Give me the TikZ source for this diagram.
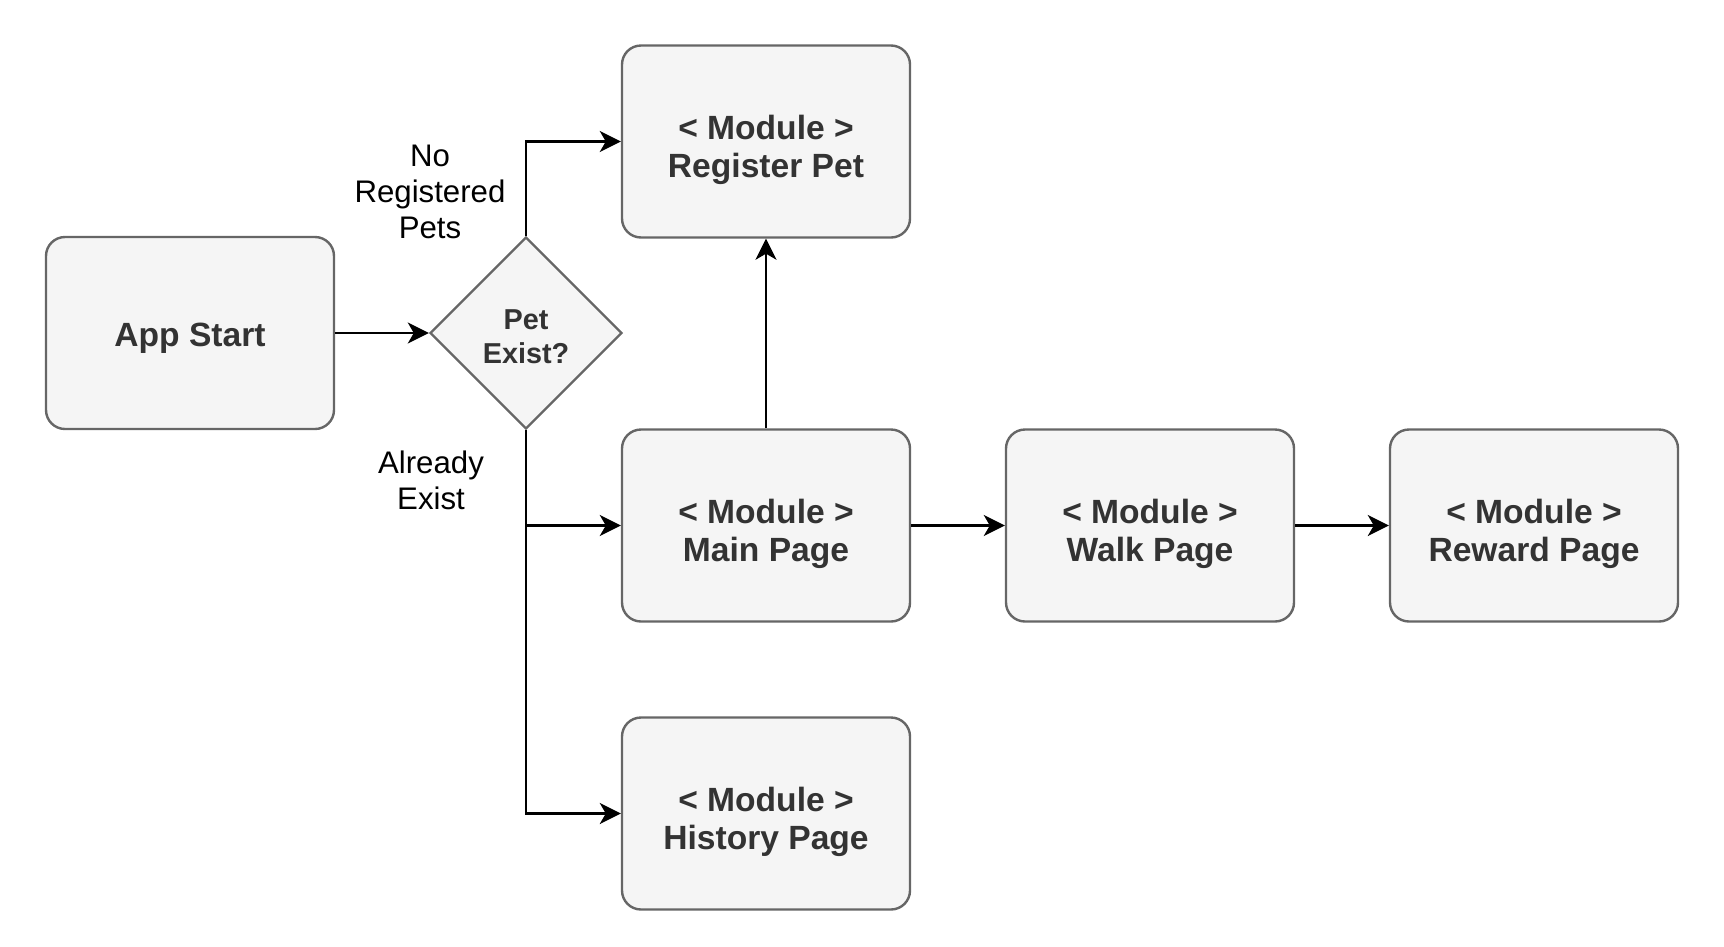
\documentclass[tikz,border=0pt]{standalone}
\usepackage{fontspec}
\setmainfont{Liberation Sans}
\usetikzlibrary{shapes.geometric,arrows.meta}
\definecolor{boxfill}{HTML}{F5F5F5}
\definecolor{boxline}{HTML}{666666}
\definecolor{boxtext}{HTML}{333333}
\begin{document}
\begin{tikzpicture}[x=1pt,y=-1pt,
  modtext/.style={align=center, inner sep=0pt, text=boxtext, font=\fontsize{33.6}{38}\selectfont\bfseries},
  module/.style={draw=boxline, fill=boxfill, line width=2.4pt, rounded corners=19pt,
    minimum width=288pt, minimum height=192pt, inner sep=0pt,
    label={[modtext, yshift=-8pt]center:{#1}}},
  startbox/.style={draw=boxline, fill=boxfill, line width=2.4pt, rounded corners=19pt,
    minimum width=288pt, minimum height=192pt, inner sep=0pt,
    label={[modtext, yshift=-5.5pt]center:{#1}}},
  decision/.style={draw=boxline, fill=boxfill, line width=2.4pt, diamond, aspect=1,
    minimum width=192pt, minimum height=192pt, inner sep=0pt, align=center,
    text=boxtext, font=\fontsize{28.8}{34}\selectfont\bfseries},
  lbl/.style={align=center, text=black, font=\fontsize{31.2}{36}\selectfont, inner sep=0pt},
  conn/.style={draw=black, line width=2.8pt, -{Stealth[length=21pt,width=21pt,inset=6pt]}}
]
\useasboundingbox (0,0) rectangle (1724,946);
\node[startbox={App Start}] (app) at (190,333) {};
\node[decision] (dec) at (526,333) {\\[-6pt]Pet\\Exist?};
\node[module={< Module >\\Register Pet}] (reg) at (766,141.5) {};
\node[module={< Module >\\Main Page}] (main) at (766,525.5) {};
\node[module={< Module >\\Walk Page}] (walk) at (1150,525.5) {};
\node[module={< Module >\\Reward Page}] (reward) at (1534,525.5) {};
\node[module={< Module >\\History Page}] (hist) at (766,813.5) {};

\node[lbl] (nolbl) at (430,192) {No\\Registered\\Pets};
\node[lbl] (exlbl) at (431,480) {Already\\Exist};

\draw[conn] (app.east) -- (dec.west);
\draw[conn] (dec.north) |- (reg.west);
\draw[conn] (dec.south) |- (main.west);
\draw[conn] (dec.south) |- (hist.west);
\draw[conn] (main.north) -- (reg.south);
\draw[conn] (main.east) -- (walk.west);
\draw[conn] (walk.east) -- (reward.west);
\end{tikzpicture}
\end{document}
